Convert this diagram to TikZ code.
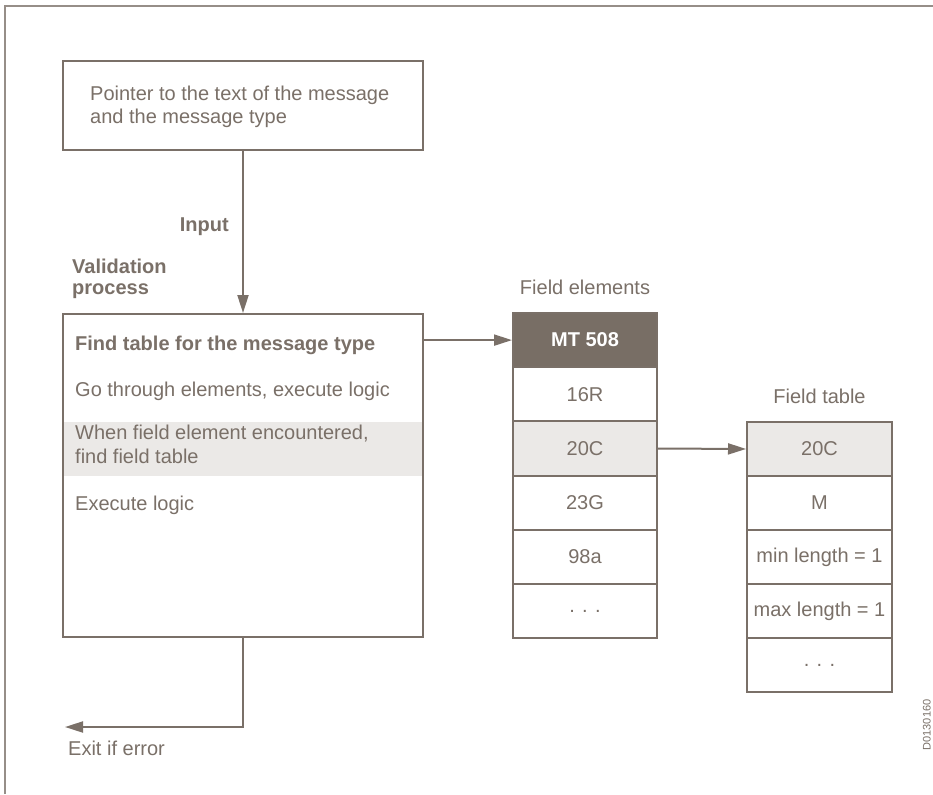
\documentclass[tikz,border=0pt]{standalone}
\usepackage{fontspec}
\setmainfont{Liberation Sans}
\usetikzlibrary{arrows.meta}
\definecolor{ink}{RGB}{122,112,104}
\definecolor{dark}{RGB}{120,110,101}
\definecolor{band}{RGB}{235,233,231}
\definecolor{frame}{RGB}{150,142,136}
\tikzset{
  x=1pt,y=-1pt,
  every node/.style={text=ink,font=\fontsize{20}{23}\selectfont,inner sep=0pt},
  box/.style={draw=ink,line width=2pt},
  cellA/.style={box,minimum width=144pt,minimum height=54.2pt,fill=white},
  cellB/.style={box,minimum width=145pt,minimum height=54pt,fill=white},
  arr/.style={draw=ink,line width=2pt,-{Triangle[length=18pt,width=11pt]}},
  lbl/.style={anchor=base west,align=left},
}
\begin{document}
\begin{tikzpicture}
\useasboundingbox (0,0) rectangle (933,794);
\fill[white] (0,0) rectangle (933,794);
\draw[frame,line width=1.5pt] (5,794) -- (5,6) -- (933,6);

% top box
\node[box,minimum width=360pt,minimum height=89pt] (top) at (243,105.5) {};
\node[lbl,font=\fontsize{20}{22.5}\selectfont] (ptxt) at (90,123.3) {Pointer to the text of the message\\and the message type};

% main box
\fill[band] (64,422) rectangle (422,476);
\node[box,minimum width=360pt,minimum height=323pt] (main) at (243,475.5) {};
\node[lbl,font=\fontsize{20}{23}\selectfont\bfseries] (r1) at (75,350) {Find table for the message type};
\node[lbl] (r2) at (75,396) {Go through elements, execute logic};
\node[lbl,font=\fontsize{20}{24}\selectfont] (r3) at (75,463.3) {When field element encountered,\\find field table};
\node[lbl] (r4) at (75,510) {Execute logic};

\node[anchor=base east,font=\fontsize{20}{23}\selectfont\bfseries] (inp) at (229,232) {Input};
\node[lbl,font=\fontsize{20}{21}\selectfont\bfseries] (val) at (72,294) {Validation\\process};

% field elements
\node (felbl) at (585,287) {Field elements};
\node[cellA,fill=dark,text=white,font=\fontsize{20}{23}\selectfont\bfseries] (fe0) at (585,340.1) {MT 508};
\node[cellA] (fe1) at (585,394.3) {16R};
\node[cellA,fill=band] (fe2) at (585,448.5) {20C};
\node[cellA] (fe3) at (585,502.7) {23G};
\node[cellA] (fe4) at (585,556.9) {98a};
\node[cellA] (fe5) at (585,611.1) {. . .};

% field table
\node (ftlbl) at (819.5,396) {Field table};
\node[cellB,fill=band] (ft0) at (819.5,449) {20C};
\node[cellB] (ft1) at (819.5,503) {M};
\node[cellB] (ft2) at (819.5,557) {min length = 1};
\node[cellB] (ft3) at (819.5,611) {max length = 1};
\node[cellB] (ft4) at (819.5,665) {. . .};

% connectors
\draw[arr] (top.south) -- (main.north);
\draw[arr] (main.east |- fe0.west) -- (fe0.west);
\draw[arr] (fe2.east) -- (ft0.west);
\coordinate (exitend) at (65,727);
\draw[arr] (main.south) |- (exitend);
\node[lbl] (exit) at (68,755) {Exit if error};

\node[rotate=90,anchor=south,font=\fontsize{11}{12}\selectfont] (code) at (931,725) {D0130160};
\end{tikzpicture}
\end{document}
